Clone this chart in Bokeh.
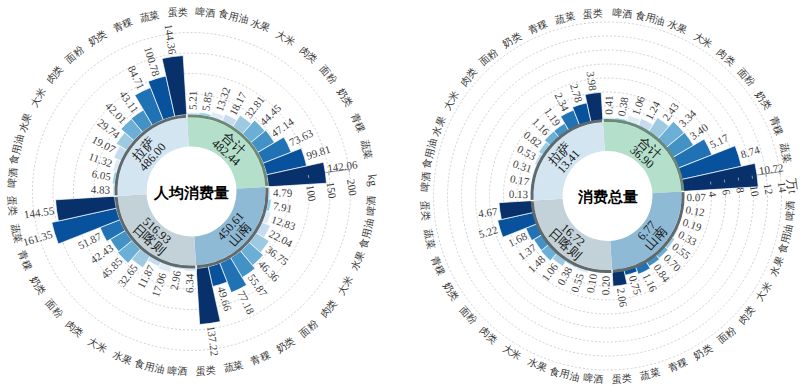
import math
from bokeh.plotting import figure
from bokeh.models import Range1d, ColumnDataSource
from bokeh.core.properties import value
from bokeh.embed import file_html
from bokeh.resources import INLINE

# ---------------- data ----------------
categories = ["啤酒", "食用油", "水果", "大米", "肉类", "面粉", "奶类", "青稞", "蔬菜", "蛋类"]
regions = ["合计", "山南", "日喀则", "拉萨"]

# per-capita consumption (kg)
percap_total = [5.21, 5.85, 13.32, 18.17, 32.81, 44.45, 47.14, 73.63, 99.81, 142.06]
percap_shannan = [4.79, 7.91, 12.83, 22.04, 36.75, 46.36, 55.87, 77.18, 49.66, 137.22]
percap_shigatse = [6.34, 2.96, 17.06, 11.87, 32.65, 45.85, 42.43, 51.87, 161.35, 144.55]
percap_lhasa = [4.83, 6.05, 11.32, 19.07, 29.74, 42.01, 43.11, 84.71, 100.78, 144.36]
percap_sums = ["482.44", "450.61", "516.93", "486.00"]

# total consumption (10k t)
amount_total = [0.41, 0.38, 1.06, 1.24, 2.43, 3.34, 3.40, 5.17, 8.74, 10.72]
amount_shannan = [0.07, 0.12, 0.19, 0.33, 0.55, 0.70, 0.84, 1.16, 0.75, 2.06]
amount_shigatse = [0.20, 0.10, 0.55, 0.38, 1.06, 1.48, 1.37, 1.68, 5.22, 4.67]
amount_lhasa = [0.13, 0.17, 0.31, 0.53, 0.82, 1.16, 1.19, 2.34, 2.78, 3.98]
amount_sums = ["36.90", "6.77", "16.72", "13.41"]

percap_ticks = [100, 150, 200]
percap_grid = [50, 100, 150, 200]
amount_ticks = [4, 6, 8, 10, 12, 14]
amount_grid = [2, 4, 6, 8, 10, 12, 14]

cat_colors = ["#cfe5f5", "#86cff3", "#deebf7", "#c6dbef", "#9ecae1",
              "#6baed6", "#4292c6", "#2171b5", "#08519c", "#08306b"]
region_fill = ["#b4e0cb", "#8fbad6", "#c3d1d8", "#d3e5f1"]
ring_colors = ["#6a8a77", "#5f6a6e", "#5f6a6e", "#5f6a6e"]

SERIF = value("Liberation Serif")

W, H = 800, 386
p = figure(width=W, height=H, x_range=Range1d(0, W), y_range=Range1d(-H, 0),
           output_backend="svg", toolbar_location=None, min_border=0, title=None)
p.axis.visible = False
p.grid.visible = False
p.outline_line_color = None


def pt(cx, cy, r, deg):
    t = math.radians(deg)
    return cx + r * math.cos(t), -cy + r * math.sin(t)


def draw_chart(cx, cy, series, sums, r0, k, ticks, grid, unit, title, lab_r, phi):
    Y = -cy
    # dashed grid circles
    p.circle(x=[cx] * len(grid), y=[Y] * len(grid), radius=[r0 + k * g for g in grid],
             fill_color=None, line_color="#c4c4c4", line_width=0.8, line_dash="2 2")

    # radial axis line (along the last bar of the first quadrant)
    ta = 4.5 + phi
    rmax = r0 + k * ticks[-1]
    x0, y0 = pt(cx, cy, r0, ta)
    x1, y1 = pt(cx, cy, rmax, ta)
    p.segment(x0=[x0], y0=[y0], x1=[x1], y1=[y1], line_color="#9a9a9a", line_width=1)
    s, c = math.sin(math.radians(ta)), math.cos(math.radians(ta))

    # bars
    bars = dict(x=[], y=[], outer=[], start=[], end=[], color=[])
    labR = dict(x=[], y=[], a=[], t=[])
    labL = dict(x=[], y=[], a=[], t=[])
    labA = dict(x=[], y=[], a=[], t=[])
    for q in range(4):
        for i in range(10):
            v = series[q][i]
            th = 90 - 90 * q - (i + 0.5) * 9 + phi
            ro = r0 + k * v
            bars["x"].append(cx); bars["y"].append(Y)
            bars["outer"].append(ro)
            bars["start"].append(math.radians(th - 4.5))
            bars["end"].append(math.radians(th + 4.5))
            bars["color"].append(cat_colors[i])
            xl, yl = pt(cx, cy, ro + 2.5, th)
            if q == 0 and i == 9:
                labA["x"].append(xl); labA["y"].append(yl)
                labA["a"].append(math.radians(th)); labA["t"].append(f"{v:.2f}")
            elif math.cos(math.radians(th)) >= 0:
                labR["x"].append(xl); labR["y"].append(yl)
                labR["a"].append(math.radians(th)); labR["t"].append(f"{v:.2f}")
            else:
                labL["x"].append(xl); labL["y"].append(yl)
                labL["a"].append(math.radians(th + 180)); labL["t"].append(f"{v:.2f}")
    p.annular_wedge(x="x", y="y", inner_radius=r0, outer_radius="outer",
                    start_angle="start", end_angle="end", fill_color="color",
                    line_color="white", line_width=0.7, source=ColumnDataSource(bars))
    p.text(x="x", y="y", text="t", angle="a", text_align="left", text_baseline="middle",
           text_font=SERIF, text_font_size="11px", text_color="#404040",
           source=ColumnDataSource(labR))
    p.text(x="x", y="y", text="t", angle="a", text_align="left", text_baseline="bottom",
           text_font=SERIF, text_font_size="11px", text_color="#404040",
           source=ColumnDataSource(labA))
    p.text(x="x", y="y", text="t", angle="a", text_align="right", text_baseline="middle",
           text_font=SERIF, text_font_size="11px", text_color="#404040",
           source=ColumnDataSource(labL))

    # axis ticks and tick labels (drawn above bars)
    tx0, ty0, tx1, ty1, lx, ly, lt = [], [], [], [], [], [], []
    for tv in ticks:
        xa, ya = pt(cx, cy, r0 + k * tv, ta)
        tx0.append(xa); ty0.append(ya)
        tx1.append(xa + 3 * s); ty1.append(ya - 3 * c)
        lx.append(xa + 10 * s); ly.append(ya - 10 * c); lt.append(str(tv))
    p.segment(x0=tx0, y0=ty0, x1=tx1, y1=ty1, line_color="#9a9a9a", line_width=1)
    p.text(x=lx, y=ly, text=lt, angle=math.radians(ta - 90), text_align="left",
           text_baseline="middle", text_font=SERIF, text_font_size="11px", text_color="#333333")
    ux, uy = pt(cx, cy, lab_r + 1, ta)
    p.text(x=[ux + 8 * s], y=[uy - 8 * c], text=[unit], angle=math.radians(ta - 90),
           text_align="left", text_baseline="middle", text_font=SERIF,
           text_font_size="12px", text_color="#333333")

    # donut quadrants
    qs = dict(x=[cx] * 4, y=[Y] * 4, start=[], end=[], color=region_fill)
    for q in range(4):
        a0 = -90 * q + phi
        qs["start"].append(math.radians(a0))
        qs["end"].append(math.radians(a0 + 90))
    p.annular_wedge(x="x", y="y", inner_radius=45, outer_radius=74, start_angle="start",
                    end_angle="end", fill_color="color", line_color=None,
                    source=ColumnDataSource(qs))
    # ring
    for q in range(4):
        a0 = -90 * q + phi
        p.arc(x=[cx], y=[Y], radius=75.5, start_angle=math.radians(a0 + 0.6),
              end_angle=math.radians(a0 + 89.4), line_color=ring_colors[q], line_width=3)

    # quadrant labels
    for q in range(4):
        tq = 45 - 90 * q + phi
        rot = tq - 90 if math.sin(math.radians(tq)) > 0 else tq + 90
        nx, ny = pt(cx, cy, 64, tq)
        vx, vy = pt(cx, cy, 52, tq)
        p.text(x=[nx], y=[ny], text=[regions[q]], angle=math.radians(rot), text_align="center",
               text_baseline="middle", text_font=SERIF, text_font_size="13px",
               text_color="#111111")
        p.text(x=[vx], y=[vy], text=[sums[q]], angle=math.radians(rot), text_align="center",
               text_baseline="middle", text_font=SERIF, text_font_size="12px",
               text_color="#111111")

    # category labels around
    cl = dict(x=[], y=[], a=[], t=[])
    for q in range(4):
        for i in range(10):
            if q == 0 and i == 9:
                continue
            th = 90 - 90 * q - (i + 0.5) * 9
            rot = th - 90 if math.sin(math.radians(th)) > 0 else th + 90
            xx, yy = pt(cx, cy, lab_r, th)
            cl["x"].append(xx); cl["y"].append(yy)
            cl["a"].append(math.radians(rot)); cl["t"].append(categories[i])
    p.text(x="x", y="y", text="t", angle="a", text_align="center", text_baseline="middle",
           text_font=SERIF, text_font_size="10px", text_color="#333333",
           source=ColumnDataSource(cl))

    # centre title
    p.text(x=[cx], y=[Y - 1], text=[title], text_align="center", text_baseline="middle",
           text_font=SERIF, text_font_size="15px", text_font_style="bold", text_color="#000000")


draw_chart(191, 191, [percap_total, percap_shannan, percap_shigatse, percap_lhasa],
           percap_sums, 77, 0.41, percap_ticks, percap_grid, "kg", "人均消费量", 180, 3.5)
draw_chart(607, 195.5, [amount_total, amount_shannan, amount_shigatse, amount_lhasa],
           amount_sums, 76, 7.0, amount_ticks, amount_grid, "万t", "消费总量", 183, 3.5)

open("out.html", "w").write(file_html(p, INLINE))
